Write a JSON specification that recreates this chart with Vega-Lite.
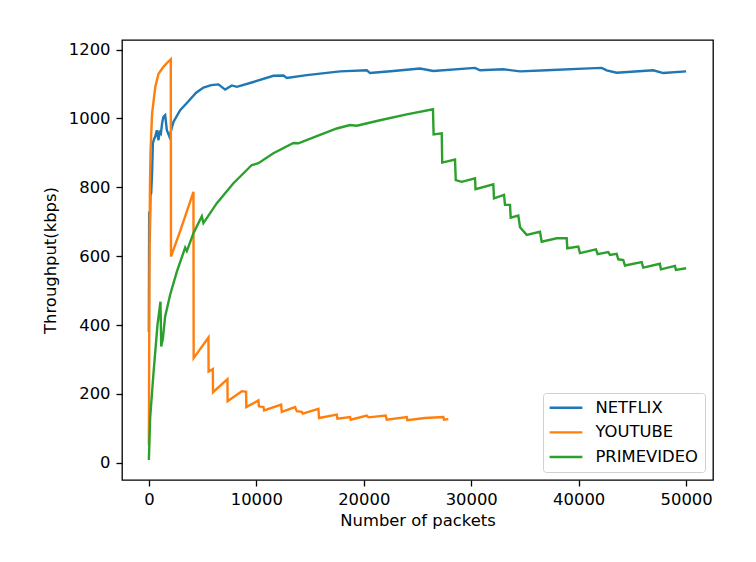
{
  "$schema": "https://vega.github.io/schema/vega-lite/v6.json",
  "width": 591,
  "height": 440,
  "autosize": {"type": "none"},
  "padding": {"left": 122, "top": 40, "right": 43, "bottom": 82},
  "background": "white",
  "config": {
    "font": "DejaVu Sans",
    "view": {"stroke": "black", "strokeWidth": 1.3},
    "axis": {
      "grid": false,
      "domain": false,
      "tickColor": "black",
      "tickSize": 6,
      "tickWidth": 1.3,
      "labelColor": "black",
      "labelFontSize": 16.4,
      "labelPadding": 5,
      "titleFontSize": 16.4,
      "titleFontWeight": "normal",
      "titleColor": "black"
    }
  },
  "data": {
    "values": [
      {"service": "NETFLIX", "packets": 0, "kbps": 380},
      {"service": "NETFLIX", "packets": 30, "kbps": 730},
      {"service": "NETFLIX", "packets": 80, "kbps": 640},
      {"service": "NETFLIX", "packets": 150, "kbps": 780},
      {"service": "NETFLIX", "packets": 214, "kbps": 782},
      {"service": "NETFLIX", "packets": 300, "kbps": 841},
      {"service": "NETFLIX", "packets": 372, "kbps": 928},
      {"service": "NETFLIX", "packets": 480, "kbps": 940},
      {"service": "NETFLIX", "packets": 586, "kbps": 947},
      {"service": "NETFLIX", "packets": 744, "kbps": 966},
      {"service": "NETFLIX", "packets": 893, "kbps": 937},
      {"service": "NETFLIX", "packets": 1000, "kbps": 960},
      {"service": "NETFLIX", "packets": 1116, "kbps": 956},
      {"service": "NETFLIX", "packets": 1250, "kbps": 990},
      {"service": "NETFLIX", "packets": 1358, "kbps": 1005},
      {"service": "NETFLIX", "packets": 1516, "kbps": 1010},
      {"service": "NETFLIX", "packets": 1674, "kbps": 966},
      {"service": "NETFLIX", "packets": 1916, "kbps": 947},
      {"service": "NETFLIX", "packets": 2074, "kbps": 966},
      {"service": "NETFLIX", "packets": 2288, "kbps": 990},
      {"service": "NETFLIX", "packets": 2912, "kbps": 1024},
      {"service": "NETFLIX", "packets": 3535, "kbps": 1045},
      {"service": "NETFLIX", "packets": 4400, "kbps": 1075},
      {"service": "NETFLIX", "packets": 5079, "kbps": 1090},
      {"service": "NETFLIX", "packets": 5800, "kbps": 1097},
      {"service": "NETFLIX", "packets": 6474, "kbps": 1099},
      {"service": "NETFLIX", "packets": 7098, "kbps": 1084},
      {"service": "NETFLIX", "packets": 7721, "kbps": 1096},
      {"service": "NETFLIX", "packets": 8186, "kbps": 1092},
      {"service": "NETFLIX", "packets": 9730, "kbps": 1106},
      {"service": "NETFLIX", "packets": 11591, "kbps": 1124},
      {"service": "NETFLIX", "packets": 12521, "kbps": 1125},
      {"service": "NETFLIX", "packets": 12837, "kbps": 1118},
      {"service": "NETFLIX", "packets": 14698, "kbps": 1126},
      {"service": "NETFLIX", "packets": 17795, "kbps": 1137},
      {"service": "NETFLIX", "packets": 20279, "kbps": 1140},
      {"service": "NETFLIX", "packets": 20586, "kbps": 1132},
      {"service": "NETFLIX", "packets": 22753, "kbps": 1138},
      {"service": "NETFLIX", "packets": 25237, "kbps": 1145},
      {"service": "NETFLIX", "packets": 26474, "kbps": 1138},
      {"service": "NETFLIX", "packets": 30353, "kbps": 1147},
      {"service": "NETFLIX", "packets": 30819, "kbps": 1140},
      {"service": "NETFLIX", "packets": 32986, "kbps": 1143},
      {"service": "NETFLIX", "packets": 34540, "kbps": 1137},
      {"service": "NETFLIX", "packets": 37023, "kbps": 1140},
      {"service": "NETFLIX", "packets": 40428, "kbps": 1145},
      {"service": "NETFLIX", "packets": 42140, "kbps": 1147},
      {"service": "NETFLIX", "packets": 42605, "kbps": 1140},
      {"service": "NETFLIX", "packets": 43535, "kbps": 1133},
      {"service": "NETFLIX", "packets": 46940, "kbps": 1140},
      {"service": "NETFLIX", "packets": 47870, "kbps": 1132},
      {"service": "NETFLIX", "packets": 50000, "kbps": 1137},

      {"service": "YOUTUBE", "packets": 0, "kbps": 50},
      {"service": "YOUTUBE", "packets": 50, "kbps": 500},
      {"service": "YOUTUBE", "packets": 100, "kbps": 800},
      {"service": "YOUTUBE", "packets": 150, "kbps": 900},
      {"service": "YOUTUBE", "packets": 300, "kbps": 1014},
      {"service": "YOUTUBE", "packets": 600, "kbps": 1092},
      {"service": "YOUTUBE", "packets": 900, "kbps": 1130},
      {"service": "YOUTUBE", "packets": 1360, "kbps": 1150},
      {"service": "YOUTUBE", "packets": 1700, "kbps": 1162},
      {"service": "YOUTUBE", "packets": 2040, "kbps": 1172},
      {"service": "YOUTUBE", "packets": 2060, "kbps": 599},
      {"service": "YOUTUBE", "packets": 2912, "kbps": 673},
      {"service": "YOUTUBE", "packets": 4150, "kbps": 787},
      {"service": "YOUTUBE", "packets": 4170, "kbps": 304},
      {"service": "YOUTUBE", "packets": 5545, "kbps": 364},
      {"service": "YOUTUBE", "packets": 5560, "kbps": 265},
      {"service": "YOUTUBE", "packets": 5953, "kbps": 272},
      {"service": "YOUTUBE", "packets": 5970, "kbps": 205},
      {"service": "YOUTUBE", "packets": 7312, "kbps": 243},
      {"service": "YOUTUBE", "packets": 7330, "kbps": 179},
      {"service": "YOUTUBE", "packets": 8651, "kbps": 208},
      {"service": "YOUTUBE", "packets": 9051, "kbps": 206},
      {"service": "YOUTUBE", "packets": 9070, "kbps": 162},
      {"service": "YOUTUBE", "packets": 10195, "kbps": 181},
      {"service": "YOUTUBE", "packets": 10240, "kbps": 164},
      {"service": "YOUTUBE", "packets": 10660, "kbps": 162},
      {"service": "YOUTUBE", "packets": 10726, "kbps": 152},
      {"service": "YOUTUBE", "packets": 12307, "kbps": 169},
      {"service": "YOUTUBE", "packets": 12372, "kbps": 148},
      {"service": "YOUTUBE", "packets": 13609, "kbps": 162},
      {"service": "YOUTUBE", "packets": 13767, "kbps": 150},
      {"service": "YOUTUBE", "packets": 14233, "kbps": 148},
      {"service": "YOUTUBE", "packets": 14326, "kbps": 143},
      {"service": "YOUTUBE", "packets": 15777, "kbps": 157},
      {"service": "YOUTUBE", "packets": 15842, "kbps": 130},
      {"service": "YOUTUBE", "packets": 17488, "kbps": 140},
      {"service": "YOUTUBE", "packets": 17544, "kbps": 128},
      {"service": "YOUTUBE", "packets": 18726, "kbps": 133},
      {"service": "YOUTUBE", "packets": 18791, "kbps": 125},
      {"service": "YOUTUBE", "packets": 20279, "kbps": 137},
      {"service": "YOUTUBE", "packets": 20428, "kbps": 132},
      {"service": "YOUTUBE", "packets": 22047, "kbps": 137},
      {"service": "YOUTUBE", "packets": 22140, "kbps": 125},
      {"service": "YOUTUBE", "packets": 24000, "kbps": 133},
      {"service": "YOUTUBE", "packets": 24056, "kbps": 124},
      {"service": "YOUTUBE", "packets": 25702, "kbps": 130},
      {"service": "YOUTUBE", "packets": 27405, "kbps": 133},
      {"service": "YOUTUBE", "packets": 27470, "kbps": 125},
      {"service": "YOUTUBE", "packets": 27870, "kbps": 127},

      {"service": "PRIMEVIDEO", "packets": 0, "kbps": 8},
      {"service": "PRIMEVIDEO", "packets": 120, "kbps": 130},
      {"service": "PRIMEVIDEO", "packets": 430, "kbps": 260},
      {"service": "PRIMEVIDEO", "packets": 800, "kbps": 400},
      {"service": "PRIMEVIDEO", "packets": 1080, "kbps": 468},
      {"service": "PRIMEVIDEO", "packets": 1150, "kbps": 338},
      {"service": "PRIMEVIDEO", "packets": 1302, "kbps": 360},
      {"service": "PRIMEVIDEO", "packets": 1516, "kbps": 425},
      {"service": "PRIMEVIDEO", "packets": 1981, "kbps": 488},
      {"service": "PRIMEVIDEO", "packets": 2605, "kbps": 555},
      {"service": "PRIMEVIDEO", "packets": 3377, "kbps": 625},
      {"service": "PRIMEVIDEO", "packets": 3535, "kbps": 615},
      {"service": "PRIMEVIDEO", "packets": 4149, "kbps": 667},
      {"service": "PRIMEVIDEO", "packets": 4930, "kbps": 716},
      {"service": "PRIMEVIDEO", "packets": 5079, "kbps": 696},
      {"service": "PRIMEVIDEO", "packets": 6326, "kbps": 754},
      {"service": "PRIMEVIDEO", "packets": 7870, "kbps": 812},
      {"service": "PRIMEVIDEO", "packets": 9581, "kbps": 865},
      {"service": "PRIMEVIDEO", "packets": 10195, "kbps": 870},
      {"service": "PRIMEVIDEO", "packets": 11591, "kbps": 899},
      {"service": "PRIMEVIDEO", "packets": 13451, "kbps": 929},
      {"service": "PRIMEVIDEO", "packets": 13916, "kbps": 928},
      {"service": "PRIMEVIDEO", "packets": 15628, "kbps": 949},
      {"service": "PRIMEVIDEO", "packets": 17488, "kbps": 971},
      {"service": "PRIMEVIDEO", "packets": 18726, "kbps": 981},
      {"service": "PRIMEVIDEO", "packets": 19349, "kbps": 979},
      {"service": "PRIMEVIDEO", "packets": 21516, "kbps": 995},
      {"service": "PRIMEVIDEO", "packets": 24000, "kbps": 1012},
      {"service": "PRIMEVIDEO", "packets": 26440, "kbps": 1027},
      {"service": "PRIMEVIDEO", "packets": 26500, "kbps": 954},
      {"service": "PRIMEVIDEO", "packets": 27256, "kbps": 957},
      {"service": "PRIMEVIDEO", "packets": 27300, "kbps": 872},
      {"service": "PRIMEVIDEO", "packets": 28493, "kbps": 881},
      {"service": "PRIMEVIDEO", "packets": 28560, "kbps": 821},
      {"service": "PRIMEVIDEO", "packets": 29116, "kbps": 816},
      {"service": "PRIMEVIDEO", "packets": 30353, "kbps": 826},
      {"service": "PRIMEVIDEO", "packets": 30400, "kbps": 795},
      {"service": "PRIMEVIDEO", "packets": 32056, "kbps": 809},
      {"service": "PRIMEVIDEO", "packets": 32121, "kbps": 768},
      {"service": "PRIMEVIDEO", "packets": 33051, "kbps": 778},
      {"service": "PRIMEVIDEO", "packets": 33144, "kbps": 749},
      {"service": "PRIMEVIDEO", "packets": 33609, "kbps": 749},
      {"service": "PRIMEVIDEO", "packets": 33674, "kbps": 712},
      {"service": "PRIMEVIDEO", "packets": 34381, "kbps": 718},
      {"service": "PRIMEVIDEO", "packets": 34540, "kbps": 684},
      {"service": "PRIMEVIDEO", "packets": 35163, "kbps": 662},
      {"service": "PRIMEVIDEO", "packets": 36400, "kbps": 671},
      {"service": "PRIMEVIDEO", "packets": 36558, "kbps": 642},
      {"service": "PRIMEVIDEO", "packets": 37953, "kbps": 652},
      {"service": "PRIMEVIDEO", "packets": 38884, "kbps": 652},
      {"service": "PRIMEVIDEO", "packets": 38940, "kbps": 623},
      {"service": "PRIMEVIDEO", "packets": 39963, "kbps": 628},
      {"service": "PRIMEVIDEO", "packets": 40121, "kbps": 609},
      {"service": "PRIMEVIDEO", "packets": 41609, "kbps": 620},
      {"service": "PRIMEVIDEO", "packets": 41767, "kbps": 606},
      {"service": "PRIMEVIDEO", "packets": 42753, "kbps": 612},
      {"service": "PRIMEVIDEO", "packets": 42912, "kbps": 604},
      {"service": "PRIMEVIDEO", "packets": 43535, "kbps": 607},
      {"service": "PRIMEVIDEO", "packets": 43684, "kbps": 591},
      {"service": "PRIMEVIDEO", "packets": 44149, "kbps": 589},
      {"service": "PRIMEVIDEO", "packets": 44307, "kbps": 573},
      {"service": "PRIMEVIDEO", "packets": 45860, "kbps": 583},
      {"service": "PRIMEVIDEO", "packets": 46009, "kbps": 567},
      {"service": "PRIMEVIDEO", "packets": 47553, "kbps": 578},
      {"service": "PRIMEVIDEO", "packets": 47656, "kbps": 562},
      {"service": "PRIMEVIDEO", "packets": 48958, "kbps": 572},
      {"service": "PRIMEVIDEO", "packets": 49051, "kbps": 560},
      {"service": "PRIMEVIDEO", "packets": 50000, "kbps": 565}
    ]
  },
  "mark": {"type": "line", "strokeWidth": 2.4, "clip": true},
  "encoding": {
    "x": {
      "field": "packets",
      "type": "quantitative",
      "scale": {"domain": [-2500, 52500], "nice": false, "zero": false},
      "axis": {"values": [0, 10000, 20000, 30000, 40000, 50000], "format": "d", "title": "Number of packets", "titlePadding": 5}
    },
    "y": {
      "field": "kbps",
      "type": "quantitative",
      "scale": {"domain": [-50, 1228], "nice": false, "zero": false},
      "axis": {"values": [0, 200, 400, 600, 800, 1000, 1200], "format": "d", "title": "Throughput(kbps)", "titlePadding": 10, "labelPadding": 6}
    },
    "color": {
      "field": "service",
      "type": "nominal",
      "sort": ["NETFLIX", "YOUTUBE", "PRIMEVIDEO"],
      "scale": {"domain": ["NETFLIX", "YOUTUBE", "PRIMEVIDEO"], "range": ["#1f77b4", "#ff7f0e", "#2ca02c"]},
      "legend": {
        "title": null,
        "orient": "bottom-right",
        "offset": 8,
        "symbolType": "M-1.26,0H3.78",
        "symbolSize": 169,
        "symbolStrokeWidth": 2.4,
        "labelFontSize": 16.4,
        "labelColor": "black",
        "labelOffset": 29.4,
        "rowPadding": 7.6,
        "padding": 6.6,
        "strokeColor": "#d0d0d0",
        "cornerRadius": 3,
        "fillColor": "rgba(255,255,255,0.8)"
      }
    }
  }
}
